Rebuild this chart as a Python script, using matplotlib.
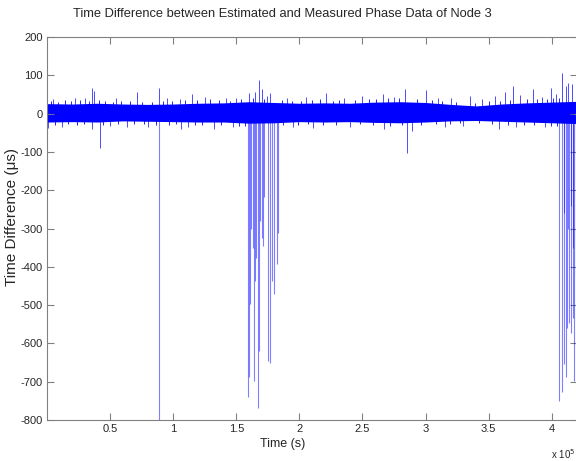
import numpy as np
import matplotlib
matplotlib.use('Agg')
import matplotlib.pyplot as plt

# time axis in units of 1e5 s, values in microseconds
band_x = [0.0, 0.2, 0.4, 0.6, 0.8, 1.0, 1.2, 1.4, 1.6, 1.8, 2.0,
          2.2, 2.4, 2.6, 2.8, 3.0, 3.2, 3.4, 3.6, 3.8, 4.0, 4.2]
band_hi = [26, 25, 27, 25, 24, 25, 27, 28, 31, 29, 27,
           28, 27, 30, 31, 29, 24, 20, 25, 28, 30, 32]
band_lo = [-22, -21, -22, -19, -20, -21, -22, -22, -25, -24, -21,
           -22, -21, -23, -24, -22, -19, -18, -20, -22, -24, -26]

# small spikes that make the ragged edge of the band
edge_up_x = [0.03, 0.09, 0.14, 0.19, 0.26, 0.33, 0.41, 0.46, 0.52, 0.59,
             0.66, 0.75, 0.83, 0.92, 0.99, 1.09, 1.19, 1.29, 1.36, 1.45,
             1.54, 1.63, 1.72, 1.86, 1.94, 2.01, 2.10, 2.16, 2.27, 2.31,
             2.44, 2.55, 2.61, 2.70, 2.79, 2.93, 3.05, 3.13, 3.24, 3.39,
             3.50, 3.59, 3.67, 3.80, 3.88, 3.96, 4.01, 4.06]
edge_up_y = [34, 31, 35, 32, 36, 33, 35, 32, 31, 34,
             32, 30, 31, 33, 34, 35, 36, 37, 35, 34,
             38, 40, 39, 36, 34, 33, 36, 37, 34, 36,
             35, 38, 39, 40, 41, 37, 35, 32, 29, 27,
             33, 34, 36, 37, 38, 39, 40, 42]
edge_dn_x = [0.06, 0.17, 0.24, 0.29, 0.44, 0.56, 0.69, 0.77, 0.86, 0.97,
             1.02, 1.17, 1.23, 1.38, 1.52, 1.57, 1.87, 1.99, 2.07, 2.19,
             2.29, 2.48, 2.58, 2.72, 2.81, 2.96, 3.08, 3.19, 3.27, 3.42,
             3.53, 3.65, 3.78, 3.86, 3.99, 4.04]
edge_dn_y = [-30, -28, -31, -27, -30, -28, -27, -28, -29, -30,
             -28, -31, -29, -31, -32, -33, -31, -29, -28, -31,
             -30, -28, -31, -32, -30, -29, -28, -26, -25, -25,
             -28, -29, -31, -30, -32, -33]

# isolated spikes above / below the band
pos_x = [0.05, 0.22, 0.30, 0.36, 0.37, 0.55, 0.71, 0.89, 0.95, 1.05, 1.15,
         1.25, 1.42, 1.50, 1.60, 1.65, 1.68, 1.70, 1.74, 1.77, 1.90, 2.05,
         2.21, 2.35, 2.50, 2.66, 2.75, 2.84, 3.00, 3.10, 3.20, 3.35, 3.45,
         3.55, 3.63, 3.69, 3.75, 3.85, 3.92, 3.99, 4.03, 4.08, 4.11, 4.13,
         4.16, 4.19]
pos_y = [38, 40, 42, 68, 60, 40, 57, 68, 42, 38, 52,
         44, 40, 42, 55, 57, 89, 65, 47, 55, 40, 43,
         55, 42, 45, 52, 44, 65, 62, 42, 40, 47, 38,
         45, 57, 73, 48, 65, 44, 68, 50, 107, 73, 81,
         78, 90]
neg_x = [0.01, 0.12, 0.36, 0.42, 0.50, 0.63, 0.80, 1.06, 1.12, 1.32, 1.47,
         1.95, 2.11, 2.40, 2.67, 2.85, 2.89, 3.15, 3.30, 3.58, 3.72, 3.95]
neg_y = [-38, -35, -39, -91, -33, -36, -34, -40, -35, -39, -35,
         -34, -37, -35, -40, -102, -45, -36, -33, -40, -35, -36]

# large negative excursions
drop_x = [0.89,
          1.595, 1.60, 1.61, 1.62, 1.63, 1.64, 1.65, 1.66, 1.675, 1.68,
          1.69, 1.70, 1.71, 1.72, 1.75, 1.77, 1.78, 1.80, 1.82, 1.83,
          4.06, 4.085, 4.095, 4.10, 4.11, 4.12, 4.13, 4.14, 4.15, 4.155,
          4.165, 4.17, 4.18, 4.19]
drop_y = [-820,
          -741, -689, -496, -300, -350, -697, -436, -376, -768, -619,
          -280, -324, -345, -218, -645, -650, -436, -470, -392, -313,
          -750, -728, -653, -260, -689, -559, -300, -548, -240, -574,
          -533, -350, -697, -420]

x_ticks = [0.5, 1, 1.5, 2, 2.5, 3, 3.5, 4]
x_labels = ['0.5', '1', '1.5', '2', '2.5', '3', '3.5', '4']
y_ticks = [200, 100, 0, -100, -200, -300, -400, -500, -600, -700, -800]

font = ['Liberation Sans', 'DejaVu Sans']
ink = '#262626'

fig = plt.figure(figsize=(5.76, 4.61), dpi=100)
ax = fig.add_axes([47 / 576, 41 / 461, 530 / 576, 383 / 461])

blue = '#0000ff'
ax.fill_between(np.array(band_x) * 1e5, band_lo, band_hi, color=blue, lw=0)
ax.vlines(np.array(edge_up_x) * 1e5, 0, edge_up_y, color=blue, lw=0.6)
ax.vlines(np.array(edge_dn_x) * 1e5, 0, edge_dn_y, color=blue, lw=0.6)
ax.vlines(np.array(pos_x) * 1e5, 0, pos_y, color=blue, lw=0.7, alpha=0.7)
ax.vlines(np.array(neg_x) * 1e5, 0, neg_y, color=blue, lw=0.7, alpha=0.7)
ax.vlines(np.array(drop_x) * 1e5, 0, drop_y, color=blue, lw=0.8, alpha=0.5)

ax.set_xlim(0, 4.2e5)
ax.set_ylim(-800, 200)
ax.set_xticks([t * 1e5 for t in x_ticks])
ax.set_xticklabels(x_labels)
ax.set_yticks(y_ticks)
ax.set_yticklabels([str(v) for v in y_ticks])

for s in ax.spines.values():
    s.set_color('#808080')
    s.set_linewidth(0.8)
ax.tick_params(direction='in', length=5, width=0.8, color='#808080',
               top=True, right=True, labelsize=8, labelcolor=ink, pad=3)
for lab in ax.get_xticklabels() + ax.get_yticklabels():
    lab.set_family(font)

fig.text(0.49, 0.970, 'Time Difference between Estimated and Measured Phase Data of Node 3',
         ha='center', va='center', fontsize=9.3, family=font, color=ink)
fig.text(0.021, 0.529, 'Time Difference (\u03bcs)', rotation=90,
         ha='center', va='center', fontsize=11, family=font, color=ink)
fig.text(0.491, 0.037, 'Time (s)', ha='center', va='center',
         fontsize=9, family=font, color=ink)
fig.text(0.957, 0.014, 'x 10$^5$', ha='left', va='center',
         fontsize=7, family=font, color=ink)

fig.savefig('out.png', dpi=100)
